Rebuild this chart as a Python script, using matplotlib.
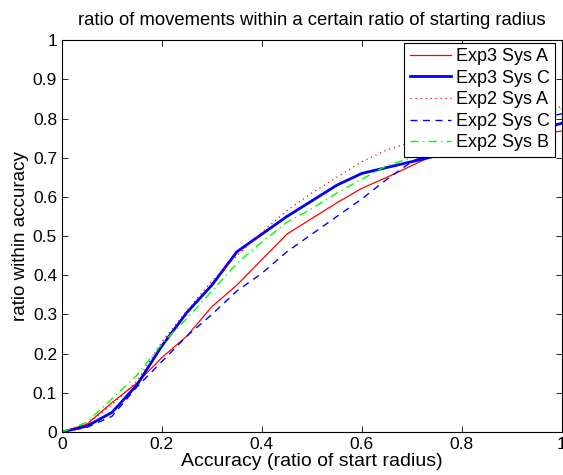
import matplotlib
matplotlib.use("Agg")
import matplotlib.pyplot as plt

plt.rcParams['font.family'] = ['Liberation Sans', 'DejaVu Sans']

# accuracy thresholds (ratio of start radius)
acc = [0, 0.05, 0.1, 0.15, 0.2, 0.25, 0.3, 0.35, 0.4, 0.45, 0.5,
       0.55, 0.6, 0.65, 0.7, 0.75, 0.8, 0.85, 0.9, 0.95, 1.0]

exp3_sys_a = [0, 0.02, 0.075, 0.125, 0.19, 0.245, 0.32, 0.375, 0.44, 0.505, 0.545,
              0.585, 0.622, 0.65, 0.68, 0.71, 0.725, 0.74, 0.75, 0.76, 0.768]
exp3_sys_c = [0, 0.015, 0.05, 0.12, 0.22, 0.305, 0.375, 0.46, 0.505, 0.55, 0.59,
              0.63, 0.66, 0.675, 0.69, 0.705, 0.72, 0.735, 0.75, 0.77, 0.788]
exp2_sys_a = [0, 0.02, 0.07, 0.13, 0.23, 0.31, 0.385, 0.45, 0.51, 0.565, 0.61,
              0.65, 0.69, 0.72, 0.74, 0.76, 0.78, 0.795, 0.81, 0.82, 0.83]
exp2_sys_c = [0, 0.012, 0.04, 0.115, 0.18, 0.245, 0.3, 0.36, 0.405, 0.46, 0.505,
              0.55, 0.595, 0.645, 0.69, 0.72, 0.745, 0.765, 0.785, 0.8, 0.812]
exp2_sys_b = [0, 0.025, 0.085, 0.145, 0.225, 0.29, 0.36, 0.43, 0.485, 0.535, 0.57,
              0.61, 0.645, 0.68, 0.70, 0.72, 0.745, 0.77, 0.79, 0.81, 0.825]

fig = plt.figure(figsize=(5.63, 4.75), dpi=100)
ax = fig.add_axes([0.110, 0.0905, 0.888, 0.825])

ax.plot(acc, exp3_sys_a, color='#ff0000', lw=0.9, label='Exp3 Sys A')
ax.plot(acc, exp3_sys_c, color='#0000ff', lw=2.0, label='Exp3 Sys C')
ax.plot(acc, exp2_sys_a, color='#ff0000', lw=0.9, ls=(0, (1, 3)), label='Exp2 Sys A')
ax.plot(acc, exp2_sys_c, color='#0000ff', lw=1.0, ls=(0, (5, 4)), label='Exp2 Sys C')
ax.plot(acc, exp2_sys_b, color='#00ff00', lw=1.0, ls=(0, (6, 3, 1, 3)), label='Exp2 Sys B')

ax.set_xlim(0, 1)
ax.set_ylim(0, 1)
ax.set_xticks([0, 0.2, 0.4, 0.6, 0.8, 1])
ax.set_xticklabels(['0', '0.2', '0.4', '0.6', '0.8', '1'])
ax.set_yticks([i / 10 for i in range(11)])
ax.set_yticklabels(['0'] + ['0.%d' % i for i in range(1, 10)] + ['1'])
ax.tick_params(direction='in', top=True, right=True, labelsize=12.5, length=4, width=0.6)
for s in ax.spines.values():
    s.set_linewidth(0.8)

ax.set_title('ratio of movements within a certain ratio of starting radius', fontsize=13.3, pad=11)
ax.set_xlabel('Accuracy (ratio of start radius)', fontsize=14, labelpad=1)
ax.set_ylabel('ratio within accuracy', fontsize=13.5, labelpad=3)

leg = ax.legend(loc='upper right', bbox_to_anchor=(0.986, 0.993), fontsize=13,
                fancybox=False, framealpha=1, borderaxespad=0, handlelength=2.3,
                labelspacing=0.25, borderpad=0.3, handletextpad=0.25)
leg.get_frame().set_edgecolor('black')
leg.get_frame().set_linewidth(0.8)

fig.savefig('out.png', dpi=100)
